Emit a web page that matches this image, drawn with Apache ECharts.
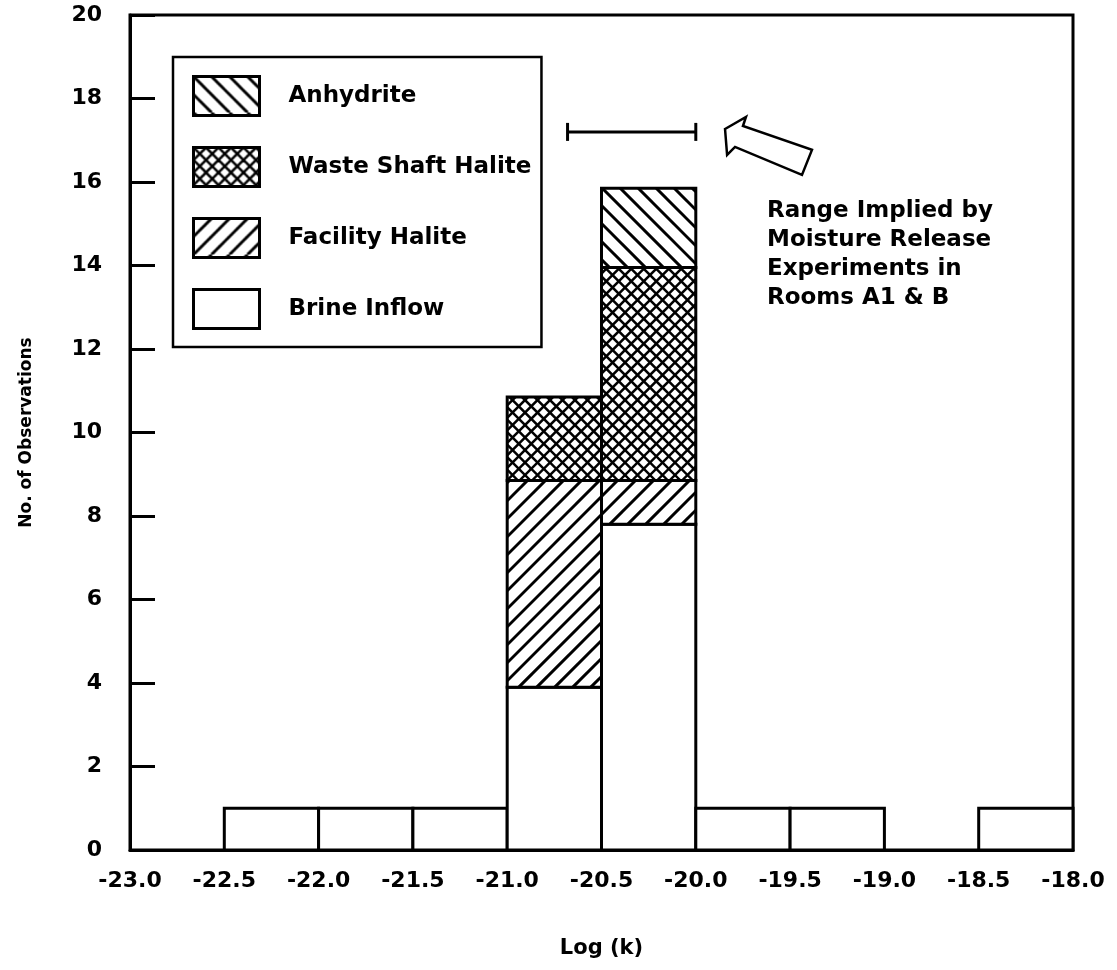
<!DOCTYPE html>
<html><head><meta charset="utf-8">
<script src="https://cdn.jsdelivr.net/npm/echarts@6/dist/echarts.min.js"></script>
<style>html,body{margin:0;padding:0;background:#fff}#c{width:1117px;height:970px}</style>
</head><body><div id="c"></div>
<script>
// ---- data ----
const binStarts = [-22.5, -22.0, -21.5, -21.0, -20.5, -20.0, -19.5, -18.5];
const binWidth = 0.5;
const brineInflow      = [1, 1, 1, 3.9, 7.8, 1, 1, 1];
const facilityHalite   = [0, 0, 0, 4.95, 1.05, 0, 0, 0];
const wasteShaftHalite = [0, 0, 0, 2.0, 5.1, 0, 0, 0];
const anhydrite        = [0, 0, 0, 0, 1.9, 0, 0, 0];
const stackNames = ['Brine Inflow', 'Facility Halite', 'Waste Shaft Halite', 'Anhydrite'];
const legendOrder = ['Anhydrite', 'Waste Shaft Halite', 'Facility Halite', 'Brine Inflow'];
const xRange = [-23.0, -18.0];
const xStep = 0.5;
const yRange = [0, 20];
const yStep = 2;
const impliedRange = [-20.68, -20.0, 17.2];
const arrowOutline = [[-19.845, 17.27], [-19.734, 17.56], [-19.75, 17.34], [-19.384, 16.77],
                      [-19.437, 16.17], [-19.792, 16.84], [-19.834, 16.65]];
const noteLines = ['Range Implied by', 'Moisture Release', 'Experiments in', 'Rooms A1 & B'];
const xTitle = 'Log (k)';
const yTitle = 'No. of Observations';

// ---- hatch styles ----
const hatchSpec = {
  'Brine Inflow': null,
  'Facility Halite': { dirs: ['/'], step: 18, lw: 3 },
  'Waste Shaft Halite': { dirs: ['/', '\\'], step: 12.5, lw: 2.5 },
  'Anhydrite': { dirs: ['\\'], step: 18, lw: 3 }
};
function hatchPattern(spec) {
  if (!spec) return '#ffffff';
  const size = Math.round(spec.step * 2);
  const c = document.createElement('canvas');
  c.width = size; c.height = size;
  const g = c.getContext('2d');
  g.fillStyle = '#fff'; g.fillRect(0, 0, size, size);
  g.strokeStyle = '#000'; g.lineWidth = spec.lw;
  const s = size / 2;
  spec.dirs.forEach(d => {
    for (let k = -size; k <= 2 * size; k += s) {
      g.beginPath();
      if (d === '/') { g.moveTo(k, size); g.lineTo(k + size, 0); }
      else { g.moveTo(k, 0); g.lineTo(k + size, size); }
      g.stroke();
    }
  });
  return { image: c, repeat: 'repeat' };
}
function hatchLines(x0, y0, x1, y1, spec) {
  const out = [];
  if (!spec) return out;
  const s = spec.step, st = { stroke: '#000', lineWidth: spec.lw };
  spec.dirs.forEach(d => {
    if (d === '/') {
      for (let k = Math.floor((x0 + y0) / s); k <= Math.ceil((x1 + y1) / s); k++) {
        const c = k * s, lo = Math.max(x0, c - y1), hi = Math.min(x1, c - y0);
        if (hi > lo) out.push({ type: 'line', shape: { x1: lo, y1: c - lo, x2: hi, y2: c - hi }, style: st });
      }
    } else {
      for (let k = Math.floor((x0 - y1) / s); k <= Math.ceil((x1 - y0) / s); k++) {
        const c = k * s, lo = Math.max(x0, c + y0), hi = Math.min(x1, c + y1);
        if (hi > lo) out.push({ type: 'line', shape: { x1: lo, y1: lo - c, x2: hi, y2: hi - c }, style: st });
      }
    }
  });
  return out;
}
const FONT = 'DejaVu Sans';

const valueArrays = [brineInflow, facilityHalite, wasteShaftHalite, anhydrite];
const cum = binStarts.map(() => 0);
const barSeries = stackNames.map((name, si) => {
  const data = [];
  binStarts.forEach((b, i) => {
    const v = valueArrays[si][i];
    if (v > 0) data.push([b, b + binWidth, cum[i], cum[i] + v]);
    cum[i] += v;
  });
  return {
    type: 'custom', name: name, data: data,
    encode: { x: [0, 1], y: [2, 3] },
    itemStyle: { color: hatchPattern(hatchSpec[name]), borderColor: '#000', borderWidth: 3 },
    renderItem: function (params, api) {
      const p0 = api.coord([api.value(0), api.value(2)]);
      const p1 = api.coord([api.value(1), api.value(3)]);
      const x0 = p0[0], x1 = p1[0], y0 = p1[1], y1 = p0[1];
      const rectShape = { x: x0, y: y0, width: x1 - x0, height: y1 - y0 };
      return {
        type: 'group',
        children: [
          { type: 'rect', shape: rectShape, style: { fill: '#fff' } },
          { type: 'group', clipPath: { type: 'rect', shape: rectShape }, children: hatchLines(x0, y0, x1, y1, hatchSpec[name]) },
          { type: 'rect', shape: rectShape, style: { fill: null, stroke: '#000', lineWidth: 3 } }
        ]
      };
    },
    z: 3
  };
});

const chart = echarts.init(document.getElementById('c'), null, { renderer: 'canvas' });
chart.setOption({
  animation: false,
  backgroundColor: '#fff',
  grid: { left: 130, right: 44, top: 15, bottom: 120, show: true, borderColor: '#000', borderWidth: 3, outerBoundsMode: 'none' },
  legend: {
    left: 173, top: 57, orient: 'vertical',
    data: legendOrder.map(n => ({ name: n, icon: 'rect', itemStyle: { color: hatchPattern(hatchSpec[n]), borderColor: '#000', borderWidth: 3 } })),
    itemWidth: 66, itemHeight: 39, itemGap: 29,
    selectedMode: false,
    borderColor: '#000', borderWidth: 2.5, padding: [18, 10, 17, 19],
    backgroundColor: '#fff',
    textStyle: { fontFamily: FONT, fontWeight: 'bold', fontSize: 23, color: '#000', padding: [0, 0, 0, 24] }
  },
  xAxis: {
    type: 'value', min: xRange[0], max: xRange[1], interval: xStep,
    name: xTitle, nameLocation: 'middle', nameGap: 88,
    nameTextStyle: { fontFamily: FONT, fontWeight: 'bold', fontSize: 21, color: '#000' },
    axisLine: { show: true, lineStyle: { color: '#000', width: 3 } },
    axisTick: { show: false },
    splitLine: { show: false },
    axisLabel: { margin: 20, formatter: v => v.toFixed(1), fontFamily: FONT, fontWeight: 'bold', fontSize: 22, color: '#000' }
  },
  yAxis: {
    type: 'value', min: yRange[0], max: yRange[1], interval: yStep,
    name: yTitle, nameLocation: 'middle', nameGap: 95, nameRotate: 90,
    nameTextStyle: { fontFamily: FONT, fontWeight: 'bold', fontSize: 17, color: '#000' },
    axisLine: { show: true, lineStyle: { color: '#000', width: 3 } },
    axisTick: { show: true, inside: true, length: 25, lineStyle: { color: '#000', width: 3 } },
    splitLine: { show: false },
    axisLabel: { margin: 28, fontFamily: FONT, fontWeight: 'bold', fontSize: 22, color: '#000' }
  },
  series: barSeries.concat([
    {
      type: 'custom', name: 'range', data: [impliedRange], silent: true, z: 4,
      renderItem: function (params, api) {
        const a = api.coord([api.value(0), api.value(2)]);
        const b = api.coord([api.value(1), api.value(2)]);
        const st = { stroke: '#000', lineWidth: 3 };
        return { type: 'group', children: [
          { type: 'line', shape: { x1: a[0], y1: a[1], x2: b[0], y2: b[1] }, style: st },
          { type: 'line', shape: { x1: a[0], y1: a[1] - 9, x2: a[0], y2: a[1] + 9 }, style: st },
          { type: 'line', shape: { x1: b[0], y1: b[1] - 9, x2: b[0], y2: b[1] + 9 }, style: st }
        ] };
      }
    },
    {
      type: 'custom', name: 'arrow', data: [arrowOutline[0]], silent: true, z: 4,
      renderItem: function (params, api) {
        return { type: 'polygon', shape: { points: arrowOutline.map(p => api.coord(p)) },
                 style: { fill: '#fff', stroke: '#000', lineWidth: 2.5 } };
      }
    }
  ]),
  graphic: [{
    type: 'text', left: 767, top: 197, z: 10,
    style: { text: noteLines.join('\n'), fontFamily: FONT, fontWeight: 'bold', fontSize: 23, lineHeight: 29, fill: '#000' }
  }]
});
</script>
</body></html>
